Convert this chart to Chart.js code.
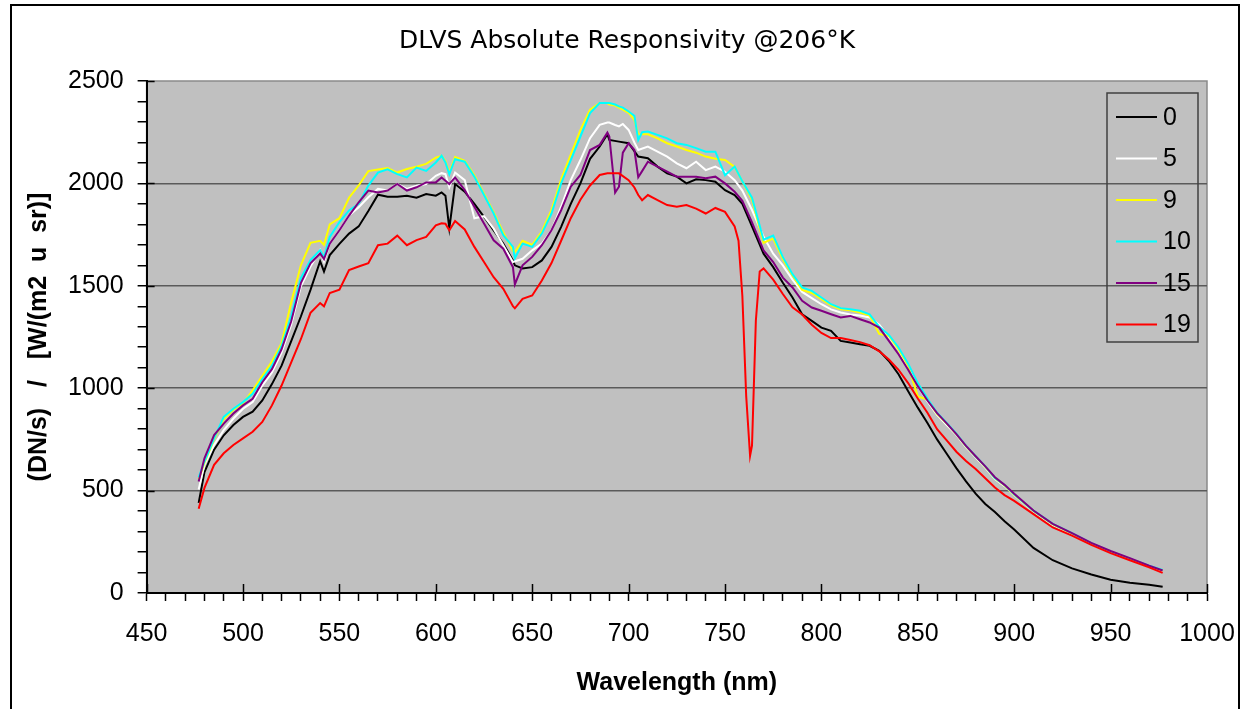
<!DOCTYPE html>
<html>
<head>
<meta charset="utf-8">
<title>DLVS Absolute Responsivity</title>
<script src="https://cdn.jsdelivr.net/npm/chart.js@4.4.0/dist/chart.umd.min.js"></script>
<style>
    html, body { margin: 0; padding: 0; background: #ffffff; }
    #wrap { position: relative; width: 1246px; height: 709px; }
</style>
</head>
<body>
<div id="wrap"><canvas id="respChart"></canvas></div>
<script>
// Wavelength samples (nm), shared by every series; null = no sample for that series
const wavelengths = [
    477, 480, 485, 490, 495, 500, 505, 510, 515, 520,
    525, 530, 535, 540, 542, 545, 550, 555, 560, 565,
    570, 575, 580, 585, 590, 595, 600, 603, 605, 607,
    610, 615, 620, 625, 630, 635, 640, 641, 645, 650,
    655, 660, 665, 670, 675, 680, 685, 689, 690, 693,
    695, 697, 700, 703, 705, 707, 710, 715, 720, 725,
    730, 735, 740, 745, 750, 755, 757, 759, 761, 763,
    764, 766, 768, 770, 775, 780, 785, 790, 795, 800,
    805, 810, 815, 820, 825, 830, 835, 840, 845, 850,
    855, 860, 865, 870, 875, 880, 885, 890, 895, 900,
    910, 920, 930, 940, 950, 960, 970, 977
];

const resp0 = [
    440, 590, 700, 770, 820, 860, 885, 940, 1020, 1110,
    1230, 1350, 1480, 1620, 1570, 1650, 1705, 1755, 1790, 1865,
    1945, 1935, 1935, 1940, 1930, 1948, 1940, 1956, 1940, 1780,
    1997, 1960, 1900, 1837, 1771, 1706, 1624, 1600, 1585, 1591,
    1624, 1690, 1788, 1900, 2000, 2120, 2180, 2240, 2212, null,
    2204, null, 2196, null, 2131, null, 2123, 2082, 2049, 2033,
    2000, 2020, 2016, 2008, 1967, 1943, null, 1900, null, null,
    1790, null, null, 1657, 1591, 1515, 1443, 1361, 1329, 1296,
    1280, 1231, 1223, 1215, 1207, 1182, 1133, 1068, 985, 905,
    830, 750, 680, 610, 545, 485, 435, 395, 350, 310,
    220, 160, 120, 90, 65, 50, 40, 30
];

const resp5 = [
    505, 626, 723, 795, 852, 900, 932, 1013, 1077, 1174,
    1311, 1497, 1594, 1674, 1618, 1706, 1771, 1843, 1884, 1932,
    1973, 1965, 1997, 1973, 1989, 1997, 2037, 2050, 2045, 1981,
    2053, 2016, 1830, 1840, 1779, 1698, 1616, null, 1632, 1673,
    1706, 1771, 1886, 2016, 2114, 2221, 2286, 2297, 2297, 2285,
    2278, 2290, 2261, 2200, 2163, null, 2180, 2155, 2131, 2098,
    2074, 2106, 2065, 2082, 2057, 2016, null, 1965, null, null,
    1870, null, null, 1739, 1657, 1600, 1530, 1470, 1440, 1410,
    1385, 1370, 1360, 1355, 1345, 1310, 1250, 1190, 1100, 1010,
    935, 870, 820, 772, 712, 662, 612, 557, 522, 478,
    398, 333, 288, 238, 198, 163, 128, 107
];

const resp9 = [
    555, 635, 750, 850, 895, 925, 990, 1060, 1130, 1220,
    1420, 1600, 1710, 1720, 1700, 1800, 1830, 1930, 1990, 2060,
    2068, 2075, 2053, 2070, 2082, 2095, 2126, 2134, 2110, 2053,
    2129, 2110, 2040, 1950, 1860, 1760, 1670, 1665, 1720, 1700,
    1765, 1870, 2020, 2140, 2260, 2360, 2392, 2392, 2385, 2380,
    2370, 2360, 2345, 2310, 2240, 2240, 2240, 2220, 2196, 2180,
    2163, 2150, 2131, 2120, 2114, 2080, null, 2010, null, null,
    1920, null, null, 1710, 1730, 1630, 1550, 1480, 1465, 1435,
    1405, 1385, 1380, 1370, 1355, 1265, 1255, 1190, 1110, 960,
    945, 875, 827, 776, 716, 666, 616, 560, 525, 480,
    400, 335, 290, 240, 200, 165, 130, 110
];

const resp10 = [
    565, 642, 755, 860, 900, 932, 973, 1045, 1110, 1206,
    1352, 1537, 1626, 1674, 1640, 1739, 1811, 1868, 1900, 1989,
    2053, 2069, 2045, 2029, 2077, 2061, 2102, 2135, 2102, 2045,
    2118, 2106, 2033, 1943, 1853, 1747, 1690, 1635, 1706, 1690,
    1755, 1853, 2000, 2114, 2229, 2343, 2392, 2392, 2392, 2385,
    2376, 2370, 2351, 2330, 2212, 2250, 2253, 2237, 2220, 2196,
    2188, 2172, 2155, 2155, 2040, 2082, null, 2010, null, null,
    1930, null, null, 1725, 1745, 1640, 1557, 1492, 1475, 1443,
    1410, 1391, 1386, 1378, 1361, 1300, 1260, 1199, 1120, 1025,
    950, 880, 830, 778, 718, 668, 618, 562, 527, 482,
    402, 338, 292, 243, 203, 168, 133, 112
];

const resp15 = [
    545, 658, 771, 827, 876, 916, 948, 1029, 1093, 1190,
    1327, 1513, 1610, 1658, 1630, 1706, 1771, 1843, 1908, 1965,
    1956, 1965, 1997, 1965, 1981, 2005, 2005, 2029, 2013, 1997,
    2029, 1967, 1886, 1804, 1722, 1681, 1591, 1507, 1600, 1641,
    1698, 1771, 1869, 1984, 2041, 2163, 2188, 2248, 2229, 1955,
    1984, 2150, 2196, 2163, 2030, 2060, 2106, 2082, 2057, 2033,
    2033, 2033, 2025, 2033, 2000, 1959, null, 1915, null, null,
    1810, null, null, 1673, 1616, 1540, 1492, 1427, 1394, 1378,
    1361, 1345, 1353, 1337, 1321, 1296, 1231, 1166, 1090, 1010,
    940, 878, 828, 776, 718, 668, 618, 565, 528, 485,
    403, 338, 292, 245, 205, 170, 133, 110
];

const resp19 = [
    411, 513, 626, 682, 723, 755, 787, 835, 916, 1013,
    1126, 1239, 1368, 1416, 1400, 1465, 1481, 1577, 1594, 1610,
    1698, 1706, 1745, 1698, 1723, 1739, 1795, 1805, 1803, 1771,
    1816, 1775, 1690, 1616, 1542, 1485, 1400, 1390, 1436, 1453,
    1526, 1611, 1720, 1830, 1920, 1990, 2041, 2049, 2049, null,
    2049, null, 2016, 1980, 1943, 1918, 1943, 1918, 1894, 1886,
    1894, 1877, 1853, 1880, 1861, 1790, 1720, 1450, 960, 670,
    720, 1330, 1570, 1585, 1530, 1460, 1395, 1360, 1310, 1270,
    1245, 1245, 1235, 1225, 1210, 1180, 1140, 1090, 1025, 950,
    880, 800, 745, 690, 645, 605, 560, 515, 478, 450,
    385, 320, 280, 235, 195, 160, 125, 98
];

const seriesLabels = ['0', '5', '9', '10', '15', '19'];
const seriesValues = [resp0, resp5, resp9, resp10, resp15, resp19];
const seriesColors = ['#000000', '#ffffff', '#ffff00', '#00ffff', '#800080', '#ff0000'];

const chartTitle = 'DLVS Absolute Responsivity @206°K';
const FONT = '"Liberation Sans", Arial, sans-serif';

const datasets = seriesValues.map((values, i) => ({
    label: seriesLabels[i],
    data: wavelengths.map((w, j) => ({ x: w, y: values[j] })),
    borderColor: seriesColors[i],
    backgroundColor: seriesColors[i],
    borderWidth: 2,
    pointRadius: 0,
    tension: 0,
    spanGaps: true,
    // later series are painted on top, like the original
    order: seriesValues.length - 1 - i
}));

// Grey plot area, outer frame, plot border and title
const plotBackground = {
    id: 'plotBackground',
    beforeDraw(chart) {
        const { ctx, chartArea: a } = chart;
        ctx.save();
        ctx.fillStyle = '#c0c0c0';
        ctx.fillRect(a.left, a.top, a.right - a.left, a.bottom - a.top);
        ctx.strokeStyle = '#8a8a8a';
        ctx.lineWidth = 1.5;
        ctx.strokeRect(a.left, a.top, a.right - a.left, a.bottom - a.top);
        ctx.strokeStyle = '#000000';
        ctx.lineWidth = 2;
        ctx.strokeRect(11, 5, 1228, 720);

        ctx.fillStyle = '#000000';
        ctx.font = '25px "DejaVu Sans", sans-serif';
        ctx.textAlign = 'center';
        ctx.textBaseline = 'middle';
        ctx.fillText(chartTitle, 627, 41);
        ctx.restore();
    }
};

// Major ticks cross into the plot area; legend box drawn inside the plot
const majorTicksAndLegend = {
    id: 'majorTicksAndLegend',
    afterDraw(chart) {
        const { ctx, chartArea: a, scales } = chart;
        ctx.save();
        ctx.strokeStyle = '#000000';
        ctx.lineWidth = 1.5;
        ctx.beginPath();
        for (let v = 500; v <= 2500; v += 500) {
            const y = Math.round(scales.y.getPixelForValue(v)) + 0.5;
            ctx.moveTo(a.left, y);
            ctx.lineTo(a.left + 8, y);
        }
        for (let v = 450; v <= 1000; v += 50) {
            const x = Math.round(scales.x.getPixelForValue(v)) + 0.5;
            ctx.moveTo(x, a.bottom);
            ctx.lineTo(x, a.bottom - 9);
        }
        ctx.stroke();

        // legend
        const boxLeft = a.right - 100;
        const boxTop = a.top + 12;
        const boxW = 91;
        const boxH = 249;
        ctx.strokeStyle = '#404040';
        ctx.lineWidth = 1.5;
        ctx.strokeRect(boxLeft, boxTop, boxW, boxH);
        ctx.font = '25px ' + FONT;
        ctx.textBaseline = 'middle';
        ctx.textAlign = 'left';
        chart.data.datasets.forEach((ds, i) => {
            const y = boxTop + 24 + i * 41.5;
            ctx.strokeStyle = ds.borderColor;
            ctx.lineWidth = 2;
            ctx.beginPath();
            ctx.moveTo(boxLeft + 9, y);
            ctx.lineTo(boxLeft + 50, y);
            ctx.stroke();
            ctx.fillStyle = '#000000';
            ctx.fillText(ds.label, boxLeft + 56, y + 1);
        });
        ctx.restore();
    }
};

const chart = new Chart(document.getElementById('respChart'), {
    type: 'line',
    data: { datasets: datasets },
    options: {
        responsive: true,
        maintainAspectRatio: false,
        animation: false,
        layout: { padding: { left: 0, right: 39, top: 81, bottom: 0 } },
        plugins: {
            legend: { display: false },
            tooltip: { enabled: false },
            title: { display: false }
        },
        scales: {
            x: {
                type: 'linear',
                min: 450,
                max: 1000,
                afterFit: s => { s.paddingLeft = 0; s.paddingRight = 0; },
                ticks: {
                    stepSize: 10,
                    autoSkip: false,
                    maxRotation: 0,
                    minRotation: 0,
                    padding: 18,
                    color: '#000000',
                    font: { family: FONT, size: 25 },
                    callback: v => Math.round(v) % 50 === 0 ? Math.round(v) : ''
                },
                grid: {
                    drawOnChartArea: false,
                    tickLength: 8,
                    tickColor: '#000000',
                    tickWidth: 1.5
                },
                border: { color: '#000000', width: 2 },
                title: {
                    display: true,
                    text: 'Wavelength (nm)',
                    color: '#000000',
                    font: { family: FONT, size: 25, weight: 'bold' },
                    padding: { top: 1, bottom: 11 }
                }
            },
            y: {
                min: 0,
                max: 2500,
                ticks: {
                    stepSize: 100,
                    autoSkip: false,
                    padding: 14,
                    color: '#000000',
                    font: { family: FONT, size: 25 },
                    callback: v => Math.round(v) % 500 === 0 ? Math.round(v) : ''
                },
                grid: {
                    color: c => (c.tick && c.tick.value % 500 === 0 && c.tick.value > 0 && c.tick.value < 2500)
                        ? '#5a5a5a' : 'rgba(0,0,0,0)',
                    lineWidth: 1.5,
                    tickLength: 9,
                    tickColor: '#000000',
                    tickWidth: 1.5
                },
                border: { color: '#000000', width: 2 },
                title: {
                    display: true,
                    text: '(DN/s)   /   [W/(m2  u  sr)]',
                    color: '#000000',
                    font: { family: FONT, size: 25, weight: 'bold' },
                    padding: { top: 24, bottom: 0 }
                }
            }
        }
    },
    plugins: [plotBackground, majorTicksAndLegend]
});
</script>
</body>
</html>
